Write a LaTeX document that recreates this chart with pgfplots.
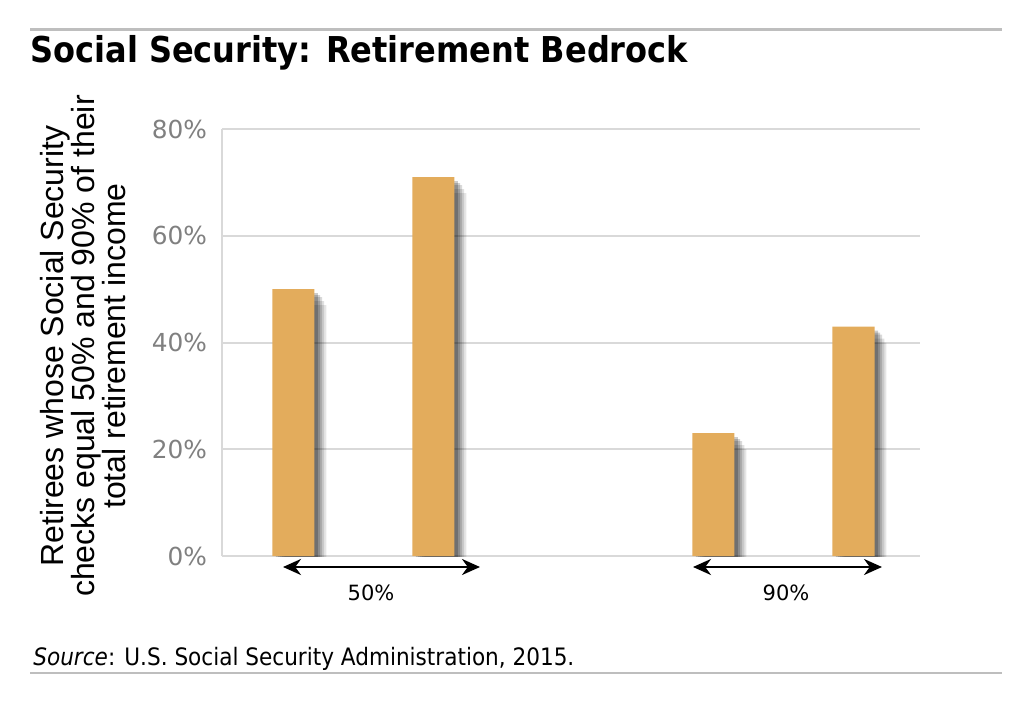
\documentclass[border=0pt]{standalone}
\usepackage{fontspec}
\setmainfont{DejaVu Sans}
\newfontfamily\condfont{DejaVu Sans Condensed}
\newfontfamily\arialfont{Liberation Sans}
\usepackage{pgfplots}
\pgfplotsset{compat=1.18}
\usetikzlibrary{arrows.meta}
\definecolor{barorange}{RGB}{227,172,92}
\definecolor{rulegray}{RGB}{190,190,190}
\definecolor{gridgray}{RGB}{217,217,217}
\definecolor{ticktext}{RGB}{128,128,128}

% bar positions 0,1 (50%) and 3,4 (90%)
\pgfplotstableread{
x  y
0  50
1  71
3  23
4  43
}\retirees

\begin{document}
\begin{tikzpicture}[x=0.5pt,y=0.5pt]
\useasboundingbox (0,0) rectangle (1024,714);
\coordinate (origin) at (222,158);

% rules and title
\draw[rulegray, line width=1.5pt] (30,684) -- (1002,684);
\draw[rulegray, line width=1pt] (30,41) -- (1002,41);
\node[anchor=base west, inner sep=0pt, font=\condfont\bfseries\fontsize{17.8}{20}\selectfont]
  at (30,651) {Social Security: Retirement Bedrock};
\node[anchor=base west, inner sep=0pt, font=\condfont\fontsize{12}{14}\selectfont]
  at (33,49) {\textit{Source}: U.S. Social Security Administration, 2015.};

\begin{axis}[
  at={(origin)}, anchor=south west,
  scale only axis,
  width=349pt, height=213.5pt,
  xmin=-0.51, xmax=4.475,
  ymin=0, ymax=80,
  xtick=\empty,
  ytick={0,20,40,60,80},
  yticklabel={\pgfmathprintnumber{\tick}\%},
  /pgf/number format/assume math mode=true,
  yticklabel style={font=\fontsize{12.4}{14}\selectfont, text=ticktext, xshift=-4pt},
  major tick length=0pt,
  ymajorgrids,
  grid style={draw=gridgray, line width=1pt},
  axis lines*=left,
  axis line style={draw=gridgray, line width=1pt, -},
  bar width=0.3,
]
% soft shadow to the right of each bar
\addplot[ybar, bar shift=0.085, fill=black, draw=none, fill opacity=0.10, yshift=-8pt] table {\retirees};
\addplot[ybar, bar shift=0.07, fill=black, draw=none, fill opacity=0.12, yshift=-6pt] table {\retirees};
\addplot[ybar, bar shift=0.055, fill=black, draw=none, fill opacity=0.15, yshift=-4pt] table {\retirees};
\addplot[ybar, bar shift=0.04, fill=black, draw=none, fill opacity=0.18, yshift=-3pt] table {\retirees};
\addplot[ybar, bar shift=0.025, fill=black, draw=none, fill opacity=0.2, yshift=-2pt] table {\retirees};
\addplot[ybar, bar shift=0, fill=barorange, draw=none] table {\retirees};
\end{axis}

% y label
\node[rotate=90, align=center, font=\arialfont\fontsize{16}{15.5}\selectfont]
  at (83,368) {Retirees whose Social Security\\checks equal 50\% and 90\% of their\\total retirement income};

% group brackets
\draw[{Stealth[length=9pt,width=8pt]}-{Stealth[length=9pt,width=8pt]}, line width=1.4pt] (283,147) -- (480,147);
\draw[{Stealth[length=9pt,width=8pt]}-{Stealth[length=9pt,width=8pt]}, line width=1.4pt] (693,147) -- (882,147);
\node[font=\fontsize{10.5}{12}\selectfont] at (371,121) {50\%};
\node[font=\fontsize{10.5}{12}\selectfont] at (786,121) {90\%};
\end{tikzpicture}
\end{document}
